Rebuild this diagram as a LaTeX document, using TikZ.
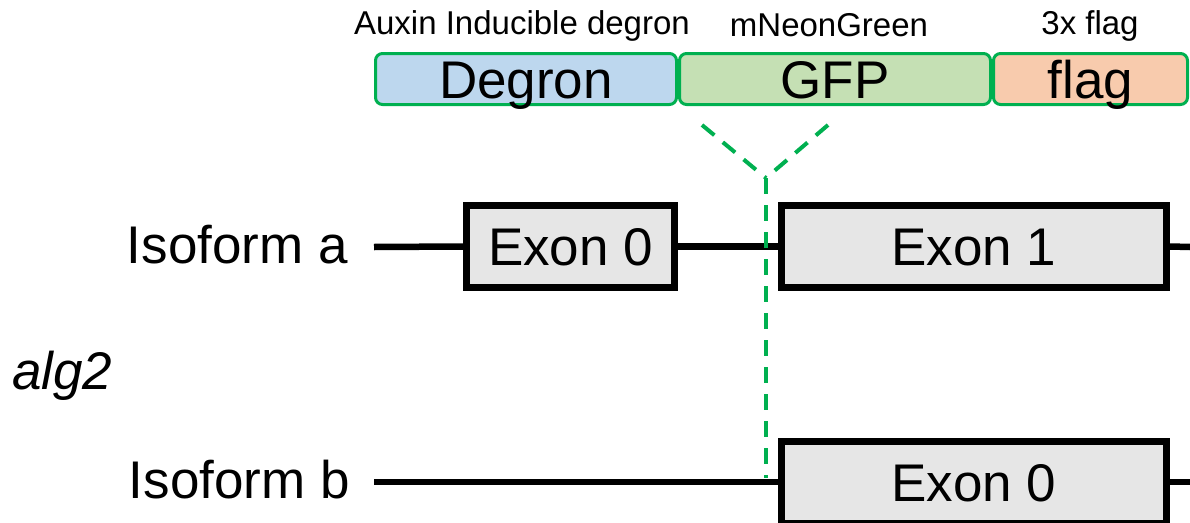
\documentclass[tikz,border=0pt]{standalone}
\usepackage{fontspec}
\setmainfont{Liberation Sans}
\definecolor{tagline}{HTML}{00B050}
\definecolor{degblue}{HTML}{BDD7EE}
\definecolor{gfpgreen}{HTML}{C5E0B4}
\definecolor{flagorange}{HTML}{F8CBAD}
\definecolor{exongray}{HTML}{E6E6E6}
\tikzset{TAG/.style={draw=tagline, line width=3pt, rounded corners=7pt, minimum height=51pt,
		inner sep=0pt, text height=38pt, text depth=0pt, font=\fontsize{53}{53}\selectfont}
}
\begin{document}
\begin{tikzpicture}[x=1pt,y=-1pt]
				\tikzstyle{EXON} = [draw=black, line width=7pt, fill=exongray, minimum height=82pt, inner sep=0pt, text height=38pt, text depth=0pt, font=\fontsize{53}{53}\selectfont]
				\tikzstyle{big} = [font=\fontsize{53}{53}\selectfont, inner sep=0pt, text height=38pt, text depth=0pt]
				\tikzstyle{small} = [font=\fontsize{33}{33}\selectfont, inner sep=0pt]
				\tikzstyle{gene} = [line width=6.5pt]
				\tikzstyle{site} = [draw=tagline, line width=4pt, dash pattern=on 16pt off 11pt]
				
				\useasboundingbox (0,0) rectangle (1190,522);
				
				% tag cassette
				\node[TAG, fill=degblue, minimum width=301pt] (degron) at (526,79) {Degron};
				\node[TAG, fill=gfpgreen, minimum width=311pt] (gfp) at (835,79) {GFP};
				\node[TAG, fill=flagorange, minimum width=194pt] (flag) at (1090.5,79) {flag};
				\node[small, anchor=base] (auxin) at (522,34) {Auxin Inducible degron};
				\node[small, anchor=base] (neon) at (829,36) {mNeonGreen};
				\node[small, anchor=base] (three) at (1090,34) {3x flag};
				
				% isoform a
				\node[big, anchor=east] (isoa) at (348,244) {Isoform a};
				\node[EXON, minimum width=208pt] (exa0) at (570.5,246.5) {Exon 0};
				\node[EXON, minimum width=385pt] (exa1) at (974,246.5) {Exon 1};
				\coordinate (a0) at (374,247);
				\coordinate (a1) at (1190,247);
				\draw[gene] (a0) -- (exa0.west);
				\draw[gene] (exa0.east) -- (exa1.west);
				\draw[gene] (exa1.east) -- (a1);
				
				\node[big, anchor=west] (alg) at (12,370) {\itshape alg2};
				
				% isoform b
				\node[big, anchor=east] (isob) at (350,479) {Isoform b};
				\node[EXON, minimum width=385pt] (exb0) at (974,482) {Exon 0};
				\coordinate (b0) at (374,482);
				\coordinate (b1) at (1190,482);
				\draw[gene] (b0) -- (exb0.west);
				\draw[gene] (exb0.east) -- (b1);
				
				% insertion site
				\coordinate (vl) at (702,125);
				\coordinate (vr) at (828,125);
				\coordinate (apex) at (766,178);
				\coordinate (foot) at (766,478);
				\draw[site] (vl) -- (apex);
				\draw[site] (vr) -- (apex);
				\draw[site] (apex) -- (foot);
				
			\end{tikzpicture}
\end{document}
